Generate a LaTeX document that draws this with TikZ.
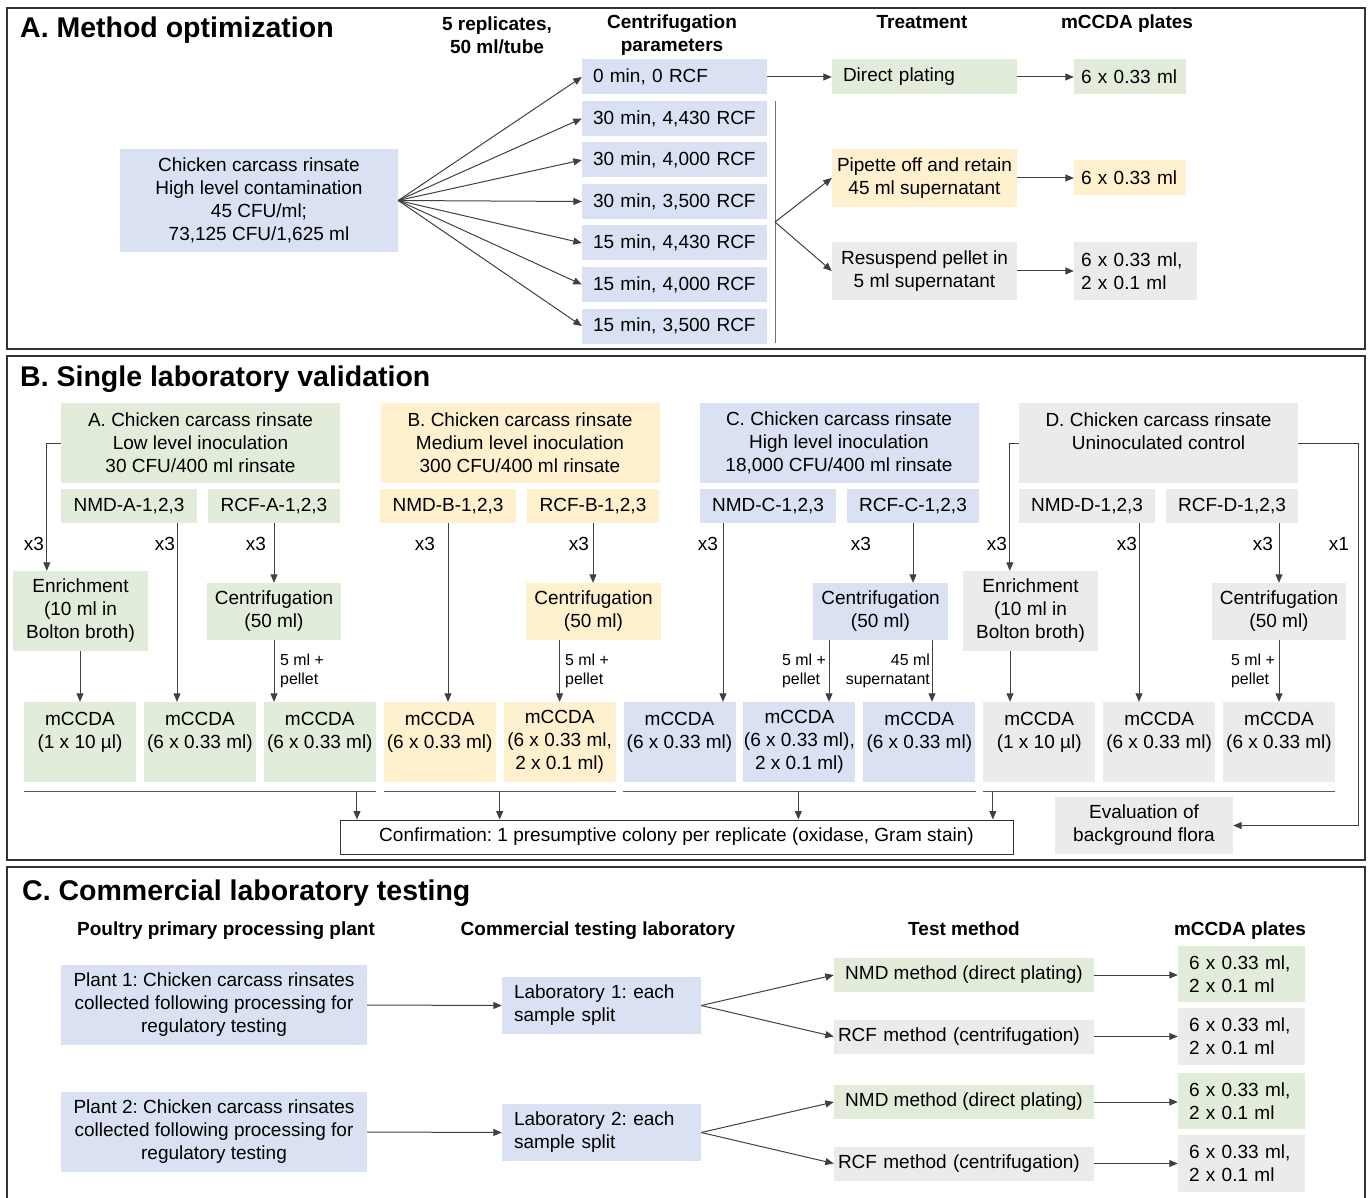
\documentclass[tikz,border=0pt]{standalone}
\usepackage{fontspec}
\setmainfont{Liberation Sans}
\usetikzlibrary{arrows.meta}
\definecolor{blu}{HTML}{DAE1F2}
\definecolor{grn}{HTML}{E2ECDA}
\definecolor{ylw}{HTML}{FFF1CE}
\definecolor{gry}{HTML}{EBEBEB}
\frenchspacing
\begin{document}
\begin{tikzpicture}[x=1pt,y=-1pt]
		\tikzset{bx/.style={rectangle,inner sep=0pt,align=center,font=\fontsize{19}{23}\selectfont},
			hd/.style={inner sep=0pt,align=center,font=\fontsize{19}{23}\selectfont\bfseries},
			ttl/.style={inner sep=0pt,anchor=base west,font=\fontsize{28.5}{32}\selectfont\bfseries},
			lbl/.style={inner sep=0pt,font=\fontsize{19}{23}\selectfont},
			sm/.style={inner sep=0pt,font=\fontsize{15.9}{19}\selectfont},
			com/.style={>={Triangle[length=8.5pt,width=7pt]},draw=black!75,line width=1pt},
			ln/.style={draw=black!65,line width=1pt},
			frm/.style={draw=black!80,line width=2pt}}
		\useasboundingbox (0,0) rectangle (1370,1198);

		\draw[frm] (7,8) rectangle (1365,349);
		\draw[frm] (7,356) rectangle (1365,860);
		\draw[frm] (7,867) rectangle (1365,1215);

		\node[ttl] at (20,38) {A. Method optimization};
		\node[hd] at (497,35) {5 replicates,\\50 ml/tube};
		\node[hd] at (672,35.5) {Centrifugation\\parameters};
		\node[hd] at (922,22.5) {Treatment};
		\node[hd] at (1127,24) {mCCDA plates};

		\node[bx,fill=blu,minimum width=278pt,minimum height=103pt] (src) at (259,200.5) {Chicken carcass rinsate\\High level contamination\\45 CFU/ml;\\73,125 CFU/1,625 ml};
		\foreach \t [count=\i] in {{0 min, 0 RCF},{30 min, 4,430 RCF},{30 min, 4,000 RCF},{30 min, 3,500 RCF},{15 min, 4,430 RCF},{15 min, 4,000 RCF},{15 min, 3,500 RCF}}{
			\node[bx,fill=blu,minimum height=35pt,text width=163pt,inner xsep=11pt,align=left] (c\i) at (674.5,35.5+41.5*\i) {\t};
			\draw[->,com] (src.east) -- (c\i.west);
		}
		\draw[ln,draw=black!55] (775,101) -- (775,343);
		\coordinate (j) at (775,222);

		\node[bx,fill=grn,minimum height=35pt,text width=163pt,inner xsep=11pt,align=left] (dp) at (924.5,77) {Direct plating};
		\node[bx,fill=ylw,minimum width=185pt,minimum height=58pt] (pip) at (924.5,178) {Pipette off and retain\\45 ml supernatant};
		\node[bx,fill=gry,minimum width=185pt,minimum height=58pt] (res) at (924.5,271) {Resuspend pellet in\\5 ml supernatant};
		\node[bx,fill=grn,minimum height=35pt,text width=98pt,inner xsep=7pt,align=left] (p1) at (1130,77) {6 x 0.33 ml};
		\node[bx,fill=ylw,minimum height=35pt,text width=98pt,inner xsep=7pt,align=left] (p2) at (1130,178) {6 x 0.33 ml};
		\node[bx,fill=gry,minimum height=58pt,text width=109pt,inner xsep=7pt,align=left] (p3) at (1135.5,271) {6 x 0.33 ml,\\2 x 0.1 ml};

		\draw[->,com] (c1.east) -- (dp.west);
		\draw[->,com] (j) -- (pip.west);
		\draw[->,com] (j) -- (res.west);
		\draw[->,com] (dp.east) -- (p1.west);
		\draw[->,com] (pip.east) -- (p2.west);
		\draw[->,com] (res.east) -- (p3.west);

		\node[ttl] at (20,386) {B. Single laboratory validation};

		\node[bx,fill=grn,minimum width=279pt,minimum height=80pt] (hA) at (200.5,443) {A. Chicken carcass rinsate\\Low level inoculation\\30 CFU/400 ml rinsate};
		\node[bx,fill=ylw,minimum width=279pt,minimum height=80pt] (hB) at (520,443) {B. Chicken carcass rinsate\\Medium level inoculation\\300 CFU/400 ml rinsate};
		\node[bx,fill=blu,minimum width=279pt,minimum height=80pt] (hC) at (839,443) {C. Chicken carcass rinsate\\High level inoculation\\18,000 CFU/400 ml rinsate};
		\node[bx,fill=gry,minimum width=279pt,minimum height=80pt] (hD) at (1158.5,443) {D. Chicken carcass rinsate\\Uninoculated control\\\mbox{}};

		\node[bx,fill=grn,minimum width=136pt,minimum height=34pt] (nA) at (129,506) {NMD-A-1,2,3};
		\node[bx,fill=grn,minimum width=132pt,minimum height=34pt] (rA) at (274,506) {RCF-A-1,2,3};
		\node[bx,fill=ylw,minimum width=136pt,minimum height=34pt] (nB) at (448,506) {NMD-B-1,2,3};
		\node[bx,fill=ylw,minimum width=132pt,minimum height=34pt] (rB) at (593,506) {RCF-B-1,2,3};
		\node[bx,fill=blu,minimum width=136pt,minimum height=34pt] (nC) at (768,506) {NMD-C-1,2,3};
		\node[bx,fill=blu,minimum width=132pt,minimum height=34pt] (rC) at (913,506) {RCF-C-1,2,3};
		\node[bx,fill=gry,minimum width=136pt,minimum height=34pt] (nD) at (1087,506) {NMD-D-1,2,3};
		\node[bx,fill=gry,minimum width=132pt,minimum height=34pt] (rD) at (1232,506) {RCF-D-1,2,3};

		\node[bx,fill=grn,minimum width=135pt,minimum height=80pt] (enA) at (80.5,611) {Enrichment\\(10 ml in\\Bolton broth)};
		\node[bx,fill=grn,minimum width=134pt,minimum height=57pt] (cfA) at (274,611.5) {Centrifugation\\(50 ml)};
		\node[bx,fill=ylw,minimum width=135pt,minimum height=57pt] (cfB) at (593.5,611.5) {Centrifugation\\(50 ml)};
		\node[bx,fill=blu,minimum width=135pt,minimum height=57pt] (cfC) at (880.5,611.5) {Centrifugation\\(50 ml)};
		\node[bx,fill=gry,minimum width=135pt,minimum height=80pt] (enD) at (1030.5,611) {Enrichment\\(10 ml in\\Bolton broth)};
		\node[bx,fill=gry,minimum width=134pt,minimum height=57pt] (cfD) at (1279,611.5) {Centrifugation\\(50 ml)};

		\foreach \f/\t [count=\i] in {grn/{(1 x 10 µl)\\\mbox{}},grn/{(6 x 0.33 ml)\\\mbox{}},grn/{(6 x 0.33 ml)\\\mbox{}},ylw/{(6 x 0.33 ml)\\\mbox{}},ylw/{(6 x 0.33 ml,\\2 x 0.1 ml)},blu/{(6 x 0.33 ml)\\\mbox{}},blu/{(6 x 0.33 ml),\\2 x 0.1 ml)},blu/{(6 x 0.33 ml)\\\mbox{}},gry/{(1 x 10 µl)\\\mbox{}},gry/{(6 x 0.33 ml)\\\mbox{}},gry/{(6 x 0.33 ml)\\\mbox{}}}{
			\node[bx,fill=\f,minimum width=112pt,minimum height=80pt] (m\i) at (80+119.9*\i-119.9,742) {mCCDA\\\t};
		}

		\draw[->,com] (hA.west) -- ++(-14,0) coordinate (ta) -- (ta |- enA.north);
		\draw[->,com] ([xshift=48pt]nA.south) -- ([xshift=48pt]nA.south |- m2.north);
		\draw[->,com] (rA.south) -- (rA.south |- cfA.north);
		\draw[->,com] (enA.south -| m1.north) -- (m1.north);
		\draw[->,com] (cfA.south) -- (cfA.south |- m3.north);
		\draw[->,com] (nB.south) -- (nB.south |- m4.north);
		\draw[->,com] (rB.south) -- (rB.south |- cfB.north);
		\draw[->,com] (cfB.south -| m5.north) -- (m5.north);
		\draw[->,com] ([xshift=-45pt]nC.south) -- ([xshift=-45pt]nC.south |- m6.north);
		\draw[->,com] (rC.south) -- (rC.south |- cfC.north);
		\draw[->,com] ([xshift=-51.5pt]cfC.south) -- ([xshift=-51.5pt]cfC.south |- m7.north);
		\draw[->,com] ([xshift=51.5pt]cfC.south) -- ([xshift=51.5pt]cfC.south |- m8.north);
		\draw[->,com] (hD.west) -- ++(-9,0) coordinate (td) -- (td |- enD.north);
		\draw[->,com] ([xshift=-20.5pt]enD.south) -- ([xshift=-20.5pt]enD.south |- m9.north);
		\draw[->,com] ([xshift=52pt]nD.south) -- ([xshift=52pt]nD.south |- m10.north);
		\draw[->,com] (cfD.north |- rD.south) -- (cfD.north);
		\draw[->,com] (cfD.south) -- (cfD.south |- m11.north);

		\foreach \x in {34,165,256,425,579,708,861,997,1127,1263}{
			\node[lbl] at (\x,544) {x3};
		}
		\node[lbl] at (1339,544) {x1};
		\node[sm,anchor=west,align=left] at (280,670.5) {5 ml +\\pellet};
		\node[sm,anchor=west,align=left] at (565,670.5) {5 ml +\\pellet};
		\node[sm,anchor=east,align=left] at (826,670.5) {5 ml +\\pellet};
		\node[sm,anchor=east,align=right] at (930,670.5) {45 ml\\supernatant};
		\node[sm,anchor=east,align=left] at (1275,670.5) {5 ml +\\pellet};

		\node[bx,fill=white,draw=black!80,line width=1pt,minimum width=673pt,minimum height=34pt] (conf) at (676.5,837) {Confirmation: 1 presumptive colony per replicate (oxidase, Gram stain)};
		\node[bx,fill=gry,minimum width=178pt,minimum height=57pt] (ev) at (1144,825.5) {Evaluation of\\background flora};

		\draw[ln] ([yshift=-9pt]m1.south west) -- coordinate[pos=.946] (ga) ([yshift=-9pt]m3.south east);
		\draw[ln] ([yshift=-9pt]m4.south west) -- coordinate[pos=.5] (gb) ([yshift=-9pt]m5.south east);
		\draw[ln] ([yshift=-9pt]m6.south west) -- coordinate[pos=.497] (gc) ([yshift=-9pt]m8.south east);
		\draw[ln] ([yshift=-9pt]m9.south west) -- coordinate[pos=.028] (gd) ([yshift=-9pt]m11.south east);
		\draw[->,com] (ga) -- (ga |- conf.north);
		\draw[->,com] (gb) -- (gb |- conf.north);
		\draw[->,com] (gc) -- (gc |- conf.north);
		\draw[->,com] (gd) -- (gd |- conf.north);
		\draw[->,com] (hD.east) -- ++(60,0) |- (ev.east);

		\node[ttl] at (22,900) {C. Commercial laboratory testing};
		\node[hd] at (226,930.5) {Poultry primary processing plant};
		\node[hd] at (598,930.5) {Commercial testing laboratory};
		\node[hd] at (964,929) {Test method};
		\node[hd] at (1240,930.5) {mCCDA plates};

		\foreach \k/\y in {1/1005,2/1132}{
			\node[bx,fill=blu,minimum width=306pt,minimum height=80pt] (pl\k) at (214,\y) {Plant \k: Chicken carcass rinsates\\collected following processing for\\regulatory testing};
			\node[bx,fill=blu,minimum height=57pt,text width=175pt,inner xsep=12pt,align=left] (lb\k) at (601.5,\y+0.5) {Laboratory \k: each\\sample split};
			\node[bx,fill=grn,minimum width=260pt,minimum height=34pt] (nm\k) at (964,\y-30) {NMD method (direct plating)};
			\node[bx,fill=gry,minimum height=34pt,text width=252pt,inner xsep=4pt,align=left] (rc\k) at (964,\y+31.5) {RCF method (centrifugation)};
			\node[bx,fill=grn,minimum height=56pt,text width=105pt,inner xsep=11pt,align=left] (pa\k) at (1241.5,\y-31) {6 x 0.33 ml,\\2 x 0.1 ml};
			\node[bx,fill=gry,minimum height=57pt,text width=105pt,inner xsep=11pt,align=left] (pb\k) at (1241.5,\y+31.5) {6 x 0.33 ml,\\2 x 0.1 ml};
			\draw[->,com] (pl\k.east) -- (lb\k.west);
			\draw[->,com] (lb\k.east) -- (nm\k.west);
			\draw[->,com] (lb\k.east) -- (rc\k.west);
			\draw[->,com] (nm\k.east) -- (nm\k.east -| pa\k.west);
			\draw[->,com] (rc\k.east) -- (rc\k.east -| pb\k.west);
		}
\end{tikzpicture}
\end{document}
